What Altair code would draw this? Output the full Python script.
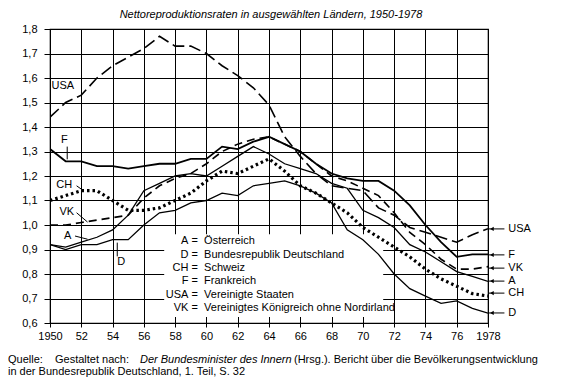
import altair as alt
import pandas as pd

FONT = "Liberation Sans"

years = list(range(1950, 1979))
usa = [1.44, 1.50, 1.53, 1.60, 1.65, 1.685, 1.72, 1.77, 1.73, 1.73, 1.70, 1.65, 1.61, 1.56, 1.49,
       1.36, 1.28, 1.21, 1.16, 1.15, 1.14, 1.07, 1.04, 0.99, 0.97, 0.95, 0.93, 0.96, 0.985]
fr = [1.31, 1.26, 1.26, 1.24, 1.24, 1.23, 1.24, 1.25, 1.25, 1.27, 1.27, 1.32, 1.31, 1.34, 1.36,
      1.33, 1.30, 1.25, 1.21, 1.19, 1.18, 1.18, 1.14, 1.08, 1.00, 0.93, 0.87, 0.88, 0.88]
at = [0.92, 0.91, 0.93, 0.95, 0.98, 1.04, 1.14, 1.17, 1.20, 1.21, 1.20, 1.24, 1.28, 1.32, 1.29,
      1.25, 1.23, 1.21, 1.17, 1.15, 1.06, 1.03, 0.99, 0.92, 0.89, 0.85, 0.81, 0.79, 0.77]
vk = [1.00, 1.00, 1.01, 1.02, 1.03, 1.04, 1.11, 1.16, 1.19, 1.21, 1.25, 1.30, 1.33, 1.35, 1.36,
      1.33, 1.30, 1.25, 1.20, 1.18, 1.15, 1.12, 1.05, 0.97, 0.92, 0.86, 0.82, 0.82, 0.83]
ch = [1.10, 1.12, 1.14, 1.14, 1.10, 1.06, 1.06, 1.07, 1.10, 1.13, 1.18, 1.22, 1.21, 1.24, 1.27,
      1.22, 1.16, 1.13, 1.09, 1.05, 0.99, 0.95, 0.91, 0.87, 0.82, 0.78, 0.75, 0.72, 0.71]
de = [0.92, 0.90, 0.92, 0.92, 0.94, 0.94, 1.00, 1.05, 1.06, 1.09, 1.10, 1.13, 1.12, 1.16, 1.17,
      1.18, 1.16, 1.13, 1.09, 0.98, 0.94, 0.88, 0.80, 0.74, 0.71, 0.68, 0.69, 0.66, 0.64]

x_ticks = list(range(1950, 1979, 2))
y_ticks = [0.6, 0.7, 0.8, 0.9, 1.0, 1.1, 1.2, 1.3, 1.4, 1.5, 1.6, 1.7, 1.8]

# legend block (abbreviation / meaning)
leg_abbr = ["A", "D", "CH", "F", "USA", "VK"]
leg_text = ["Österreich", "Bundesrepublik Deutschland", "Schweiz", "Frankreich",
            "Vereinigte Staaten", "Vereinigtes Königreich ohne Nordirland"]
leg_y = [0.935, 0.878, 0.824, 0.771, 0.714, 0.661]

# labels at the right edge
end_lab = ["USA", "F", "VK", "A", "CH", "D"]
end_y = [0.984, 0.878, 0.824, 0.771, 0.722, 0.641]

# labels inside the plot, with leader arrows
in_lab = ["USA", "F", "CH", "VK", "A", "D"]
in_x = [1950.1, 1950.7, 1950.4, 1950.6, 1950.9, 1954.3]
in_y = [1.567, 1.347, 1.163, 1.053, 0.955, 0.849]
arr_x1 = [1951.1, 1951.7, 1951.7, 1951.6, 1954.3]
arr_y1 = [1.32, 1.160, 1.050, 0.955, 0.872]
arr_x2 = [1951.1, 1952.1, 1952.4, 1952.4, 1954.3]
arr_y2 = [1.268, 1.142, 1.012, 0.942, 0.928]

title_text = "Nettoreproduktionsraten in ausgewählten Ländern, 1950-1978"
foot_q = "Quelle:"
foot_g = "Gestaltet nach:"
foot_i = "Der Bundesminister des Innern"
foot_h = "(Hrsg.). Bericht über die Bevölkerungsentwicklung"
foot_2 = "in der Bundesrepublik Deutschland, 1. Teil, S. 32"

wide = pd.DataFrame({"year": years, "USA": usa, "F": fr, "A": at, "VK": vk, "CH": ch, "D": de})
long = wide.melt("year", var_name="land", value_name="nrr")

xs = alt.Scale(domain=[1950, 1978], nice=False, zero=False)
ys = alt.Scale(domain=[0.6, 1.8], nice=False, zero=False)

xaxis = alt.Axis(values=x_ticks, title=None, grid=True, tickSize=4, labelPadding=3,
                 labelOverlap=False, labelBound=False, labelFlush=False,
                 labelExpr="(datum.value == 1950 || datum.value == 1978) ? '' + datum.value : substring('' + datum.value, 2)")
yaxis = alt.Axis(values=y_ticks, title=None, grid=True, tickSize=6, labelPadding=7,
                 labelOverlap=False, labelFlush=False,
                 labelExpr="replace(format(datum.value, '.1f'), '.', ',')")

X = lambda f: alt.X(f, scale=xs, axis=xaxis)
Y = lambda f: alt.Y(f, scale=ys, axis=yaxis)

# white box behind legend text
box = pd.DataFrame({"x1": [1957.3], "x2": [1971.3], "y1": [0.625], "y2": [0.962]})
box_layer = alt.Chart(box).mark_rect(fill="white").encode(
    x=X("x1:Q"), x2="x2:Q", y=Y("y1:Q"), y2="y2:Q")

styles = {
    "USA": dict(strokeWidth=1.6, strokeDash=[12, 5]),
    "VK": dict(strokeWidth=1.6, strokeDash=[8, 5]),
    "CH": dict(strokeWidth=3.2, strokeDash=[2.5, 3]),
    "F": dict(strokeWidth=1.8),
    "A": dict(strokeWidth=1.3),
    "D": dict(strokeWidth=1.3),
}
lines = []
for code, st in styles.items():
    lines.append(
        alt.Chart(long).transform_filter(alt.datum.land == code)
        .mark_line(color="black", clip=True, **st)
        .encode(x=X("year:Q"), y=Y("nrr:Q"))
    )

txt = dict(font=FONT, fontSize=11, color="black")

leg = pd.DataFrame({"abbr": leg_abbr, "text": leg_text, "y": leg_y,
                    "xa": [1958.85] * 6, "xe": [1959.25] * 6, "xt": [1959.85] * 6,
                    "eq": ["="] * 6})
leg_abbr_l = alt.Chart(leg).mark_text(align="right", baseline="middle", **txt).encode(
    x=X("xa:Q"), y=Y("y:Q"), text="abbr:N")
leg_eq_l = alt.Chart(leg).mark_text(align="center", baseline="middle", **txt).encode(
    x=X("xe:Q"), y=Y("y:Q"), text="eq:N")
leg_text_l = alt.Chart(leg).mark_text(align="left", baseline="middle", **txt).encode(
    x=X("xt:Q"), y=Y("y:Q"), text="text:N")

ends = pd.DataFrame({"lab": end_lab, "y": end_y, "x0": [1978.0] * 6, "x1": [1979.05] * 6,
                     "xt": [1979.3] * 6, "xh": [1978.25] * 6})
end_rules = alt.Chart(ends).mark_rule(color="black", strokeWidth=1).encode(
    x=X("x0:Q"), x2="x1:Q", y=Y("y:Q"))
end_heads = alt.Chart(ends).mark_point(shape="triangle-left", filled=True, color="black",
                                       size=18, opacity=1).encode(x=X("xh:Q"), y=Y("y:Q"))
end_text = alt.Chart(ends).mark_text(align="left", baseline="middle", **txt).encode(
    x=X("xt:Q"), y=Y("y:Q"), text="lab:N")

inl = pd.DataFrame({"lab": in_lab, "x": in_x, "y": in_y})
in_text = alt.Chart(inl).mark_text(align="left", baseline="middle", **txt).encode(
    x=X("x:Q"), y=Y("y:Q"), text="lab:N")
arr = pd.DataFrame({"x1": arr_x1, "y1": arr_y1, "x2": arr_x2, "y2": arr_y2})
arr_rules = alt.Chart(arr).mark_rule(color="black", strokeWidth=1).encode(
    x=X("x1:Q"), x2="x2:Q", y=Y("y1:Q"), y2="y2:Q")

one = pd.DataFrame({"t": [0]})


def free_text(s, px, py, align="left", **kw):
    style = dict(txt)
    style.update(kw)
    return alt.Chart(one).mark_text(text=s, align=align, baseline="middle", **style).encode(
        x=alt.value(px), y=alt.value(py))


title_l = free_text(title_text, 221, -14, align="center", fontStyle="italic")
f_q = free_text(foot_q, -42, 331)
f_g = free_text(foot_g, 5, 331)
f_i = free_text(foot_i, 90, 331, fontStyle="italic")
f_h = free_text(foot_h, 244, 331)
f_2 = free_text(foot_2, -42, 343)

chart = alt.layer(
    box_layer, *lines, leg_abbr_l, leg_eq_l, leg_text_l,
    end_rules, end_heads, end_text, in_text, arr_rules,
    title_l, f_q, f_g, f_i, f_h, f_2
).properties(
    width=438, height=294,
    autosize=alt.AutoSizeParams(type="none"),
    padding={"left": 42, "top": 21, "right": 69, "bottom": 56},
).configure_view(
    stroke="black", strokeWidth=1.2
).configure_axis(
    gridColor="black", gridOpacity=1, gridWidth=1, domain=False,
    tickColor="black", labelColor="black", labelFont=FONT, labelFontSize=11,
)

chart.save("out.html", embed_options={"renderer": "svg", "actions": False})
